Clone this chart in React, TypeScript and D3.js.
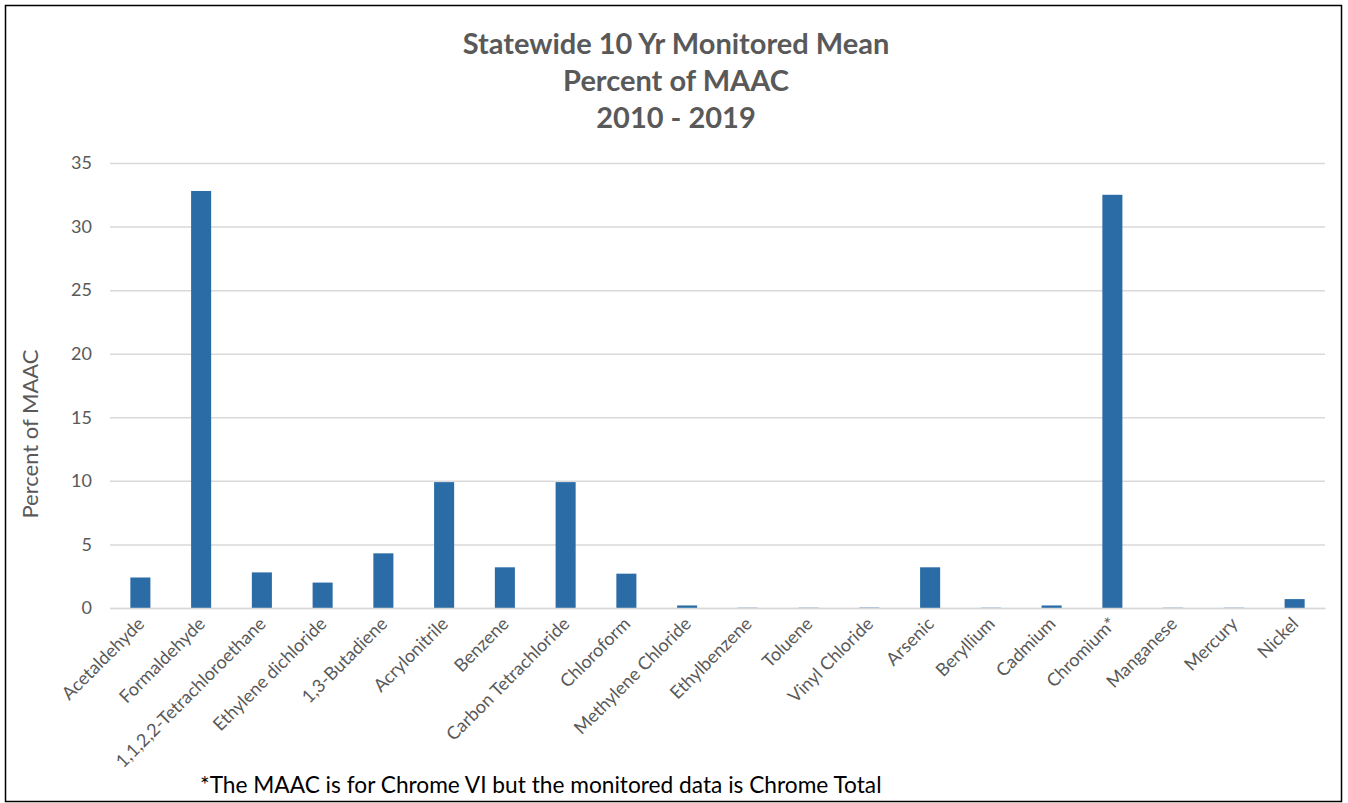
import * as React from 'react';
import * as d3 from 'd3';

const categories = [
  'Acetaldehyde', 'Formaldehyde', '1,1,2,2-Tetrachloroethane', 'Ethylene dichloride', '1,3-Butadiene',
  'Acrylonitrile', 'Benzene', 'Carbon Tetrachloride', 'Chloroform', 'Methylene Chloride',
  'Ethylbenzene', 'Toluene', 'Vinyl Chloride', 'Arsenic', 'Beryllium',
  'Cadmium', 'Chromium*', 'Manganese', 'Mercury', 'Nickel',
];
const percentOfMaac = [
  2.4, 32.8, 2.8, 2.0, 4.3,
  9.9, 3.2, 9.9, 2.7, 0.2,
  0.02, 0.02, 0.03, 3.2, 0.02,
  0.2, 32.5, 0.02, 0.02, 0.7,
];
const yTicks = [0, 5, 10, 15, 20, 25, 30, 35];
const titleLines = ['Statewide 10 Yr Monitored Mean', 'Percent of MAAC', '2010 - 2019'];

const W = 1348, H = 803;
const font = 'Lato, "Open Sans", sans-serif';

export default function App() {
  const svgRef = React.useRef<SVGSVGElement>(null);

  React.useEffect(() => {
    const svg = d3.select(svgRef.current);
    svg.selectAll('*').remove();

    const margin = { top: 163, right: 23, bottom: 195, left: 110 };
    const x = d3.scaleBand().domain(categories).range([margin.left, W - margin.right]).paddingInner(0.67).paddingOuter(0.335);
    const y = d3.scaleLinear().domain([0, 35]).range([H - margin.bottom, margin.top]);

    svg.append('rect')
      .attr('x', 5.5).attr('y', 5.5).attr('width', 1336).attr('height', 796)
      .attr('fill', '#fff').attr('stroke', '#000').attr('stroke-width', 1.5);

    // title
    svg.append('g').selectAll('text').data(titleLines).join('text')
      .attr('x', 676).attr('y', (d, i) => 54 + i * 37)
      .attr('text-anchor', 'middle')
      .attr('font-family', font).attr('font-weight', 'bold').attr('font-size', 29)
      .attr('fill', '#595959')
      .text(d => d);

    // gridlines
    const yAxis = d3.axisLeft(y).tickValues(yTicks).tickSize(-(W - margin.right - margin.left)).tickPadding(18);
    const gy = svg.append('g').attr('transform', `translate(${margin.left},0)`).call(yAxis);
    gy.select('.domain').remove();
    gy.selectAll('.tick line').attr('stroke', '#d9d9d9').attr('stroke-width', 1.5);
    gy.selectAll('.tick text').attr('font-family', font).attr('font-size', 18).attr('fill', '#595959');

    // bars
    svg.append('g').selectAll('rect').data(percentOfMaac).join('rect')
      .attr('x', (d, i) => x(categories[i])!)
      .attr('width', x.bandwidth())
      .attr('y', d => y(d))
      .attr('height', d => y(0) - y(d))
      .attr('fill', '#2b6ca7');

    // x axis
    const xAxis = d3.axisBottom(x).tickSize(0).tickPadding(0);
    const gx = svg.append('g').attr('transform', `translate(0,${y(0)})`).call(xAxis);
    gx.select('.domain').attr('stroke', '#d9d9d9').attr('stroke-width', 1.5);
    gx.selectAll('.tick text')
      .attr('font-family', font).attr('font-size', 18).attr('fill', '#595959')
      .attr('text-anchor', 'end')
      .attr('dy', null)
      .attr('transform', 'translate(5,17) rotate(-45)');

    // y axis title
    svg.append('text')
      .attr('transform', `translate(38,434) rotate(-90)`)
      .attr('text-anchor', 'middle')
      .attr('font-family', font).attr('font-size', 22).attr('fill', '#595959')
      .text('Percent of MAAC');

    // footnote
    svg.append('text')
      .attr('x', 200).attr('y', 793)
      .attr('font-family', font).attr('font-size', 22.7).attr('fill', '#000')
      .text('*The MAAC is for Chrome VI but the monitored data is Chrome Total');
  }, []);

  return (
    <div style={{ position: 'absolute', left: 0, top: 0 }}>
      <svg ref={svgRef} width={W} height={H} style={{ display: 'block' }} />
    </div>
  );
}
